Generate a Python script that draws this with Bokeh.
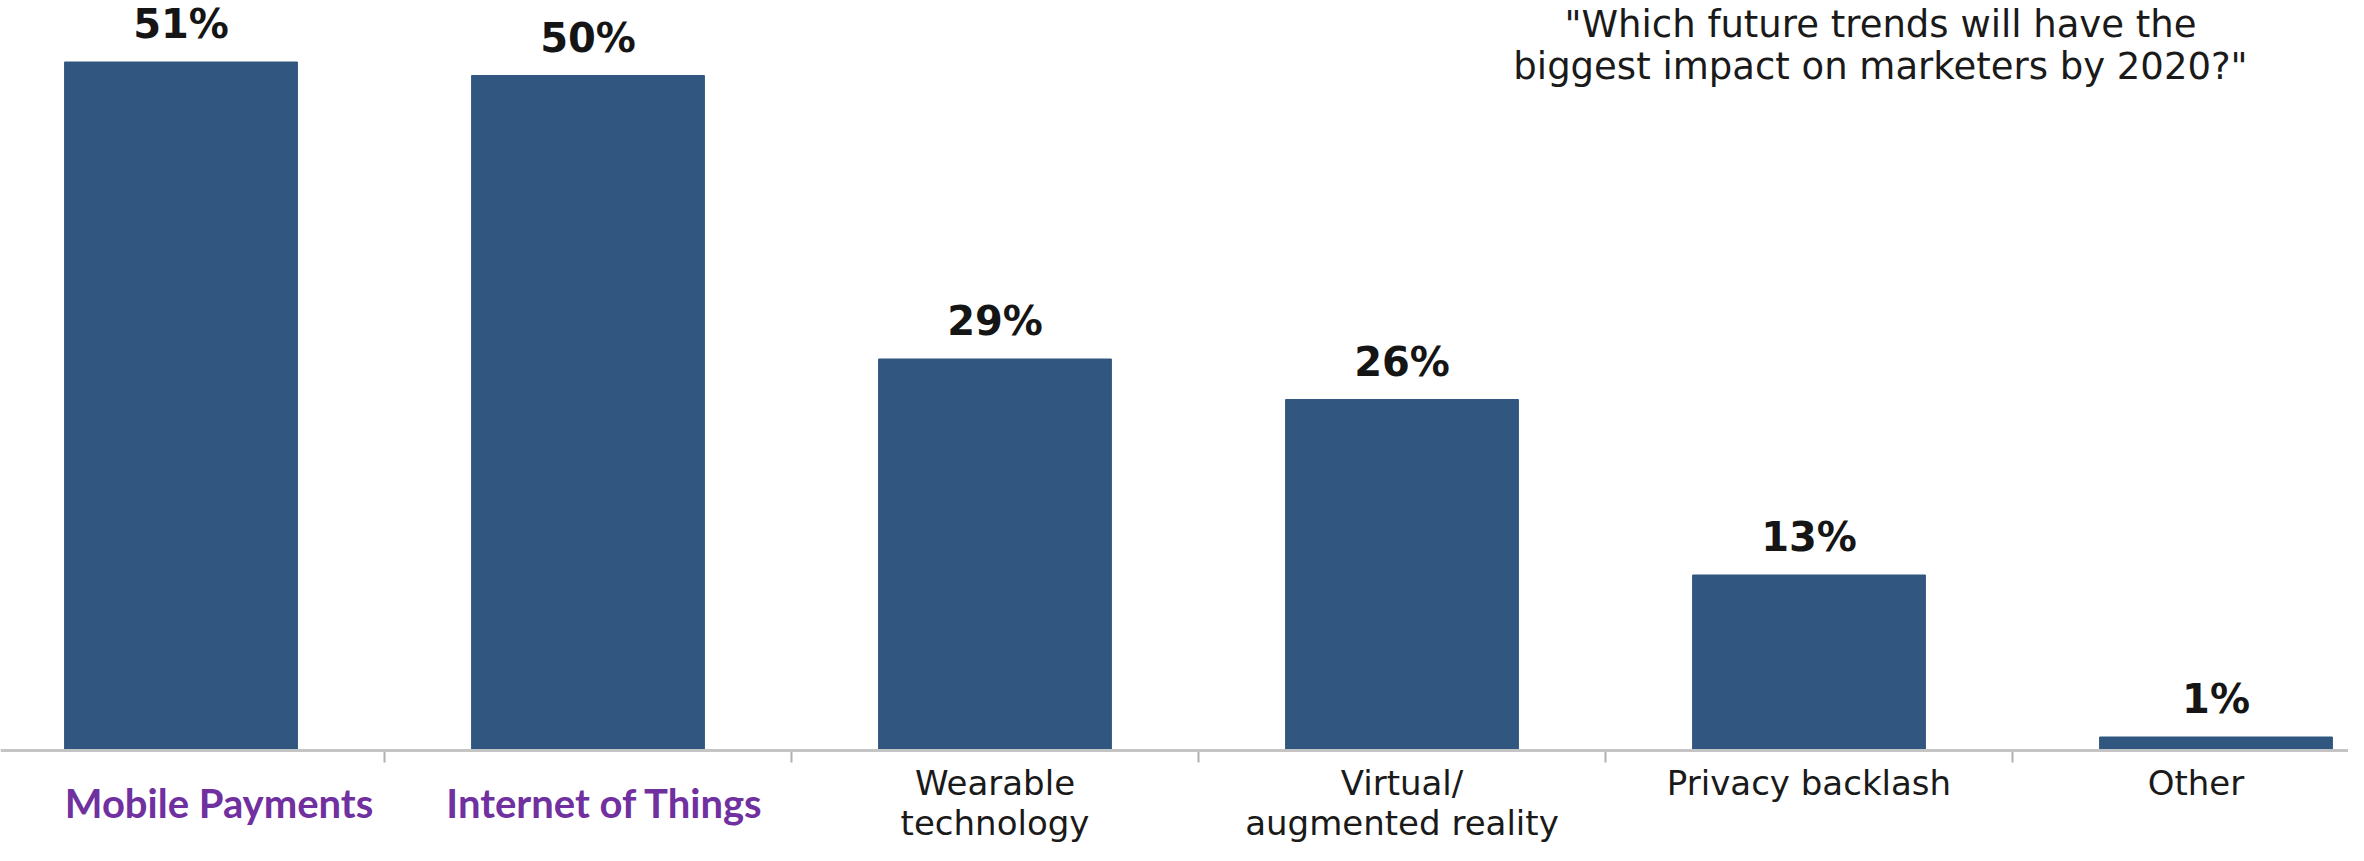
from bokeh.plotting import figure
from bokeh.models import Range1d, Span, Label
from bokeh.core.properties import value
from bokeh.embed import file_html
from bokeh.resources import INLINE

categories = ["Mobile Payments", "Internet of Things", "Wearable\ntechnology",
              "Virtual/\naugmented reality", "Privacy backlash", "Other"]
values = [51, 50, 29, 26, 13, 1]
value_labels = ["51%", "50%", "29%", "26%", "13%", "1%"]
highlighted = [True, True, False, False, False, False]
title_lines = ["\"Which future trends will have the",
               "biggest impact on marketers by 2020?\""]

BAR = "#31567f"
PURPLE = "#7030a0"
PX = 13.5  # pixels per percentage point
W, H = 2348, 845
BASE = 750  # baseline position from top, pixels
CAT = 407   # pixels per category
LEFT = -23  # pixel position of first category's left edge

p = figure(width=W, height=H,
           x_range=Range1d((0 - LEFT) / CAT, (W - LEFT) / CAT),
           y_range=Range1d(-(H - BASE) / PX, BASE / PX),
           x_axis_type=None, y_axis_type=None,
           min_border=0, outline_line_color=None,
           toolbar_location=None, output_backend="svg")
p.grid.visible = False
p.background_fill_color = "white"

xs = [i + 0.5 for i in range(len(categories))]

p.vbar(x=xs, top=values, bottom=0, width=0.572, fill_color=BAR, line_color=BAR)

# baseline and category boundary ticks
p.add_layout(Span(location=0, dimension="width", line_color="#c4c4c4", line_width=3))
bounds = [i + 1.0 for i in range(len(categories) - 1)]
p.segment(x0=bounds, y0=[0] * len(bounds), x1=bounds, y1=[-12 / PX] * len(bounds),
          line_color="#b0b0b0", line_width=2)

# value labels
p.text(x=xs, y=values, text=value_labels, text_align="center", text_baseline="middle",
       y_offset=-38, text_font=value("DejaVu Sans"), text_font_style="bold",
       text_font_size="40px", text_color="#151515")

# category labels
hx = [x for x, h in zip(xs, highlighted) if h]
ht = [c for c, h in zip(categories, highlighted) if h]
nx = [x for x, h in zip(xs, highlighted) if not h]
nt = [c for c, h in zip(categories, highlighted) if not h]

p.text(x=hx, y=[0] * len(hx), text=ht, text_align="center", text_baseline="middle",
       x_offset=[38, 17], y_offset=52, text_font=value("Lato"), text_font_style="bold",
       text_font_size="40px", text_color=PURPLE)
p.text(x=nx, y=[0] * len(nx), text=nt, text_align="center", text_baseline="top",
       x_offset=[0, 0, 0, -20], y_offset=12, text_font=value("DejaVu Sans"),
       text_font_size="34px", text_color="#1a1a1a", text_line_height=1.0)

# title (top right)
for i, line in enumerate(title_lines):
    p.add_layout(Label(x=1880, y=821 - i * 42, x_units="screen", y_units="screen",
                       text=line, text_align="center", text_baseline="alphabetic",
                       text_font="DejaVu Sans", text_font_size="37px",
                       text_color="#1a1a1a"))

open("out.html", "w").write(file_html(p, INLINE))
